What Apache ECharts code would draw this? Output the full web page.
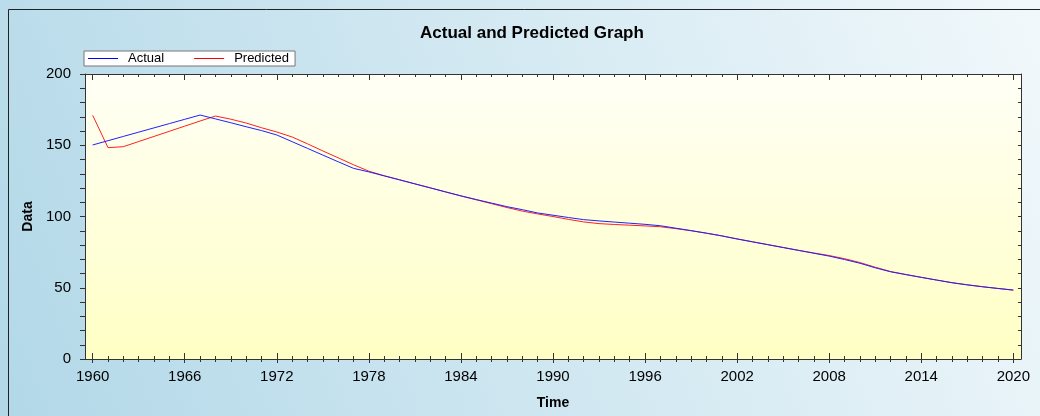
<!DOCTYPE html>
<html>
<head>
<meta charset="utf-8">
<script src="https://cdn.jsdelivr.net/npm/echarts@6/dist/echarts.min.js"></script>
<style>html,body{margin:0;padding:0;}#c{width:1040px;height:416px;}</style>
</head>
<body>
<div id="c"></div>
<script>
const years = [];
for (let y = 1960; y <= 2020; y++) years.push(String(y));

const actual = [
  150.2, 153.2, 156.2, 159.2, 162.2, 165.2, 168.2, 171.2, 168.5, 165.8,
  163.0, 160.3, 157.2, 152.5, 147.8, 143.1, 138.4, 133.8, 131.3, 128.5,
  125.7, 122.9, 120.1, 117.3, 114.5, 111.9, 109.4, 106.9, 104.8, 102.5,
  100.9, 99.3, 97.8, 96.9, 96.1, 95.3, 94.5, 93.5, 91.8, 90.1,
  88.3, 86.4, 84.2, 82.2, 80.2, 78.2, 76.2, 74.2, 72.2, 69.8,
  67.2, 64.0, 61.2, 59.2, 57.3, 55.4, 53.5, 52.0, 50.7, 49.5,
  48.4
];
const predicted = [
  171.0, 148.3, 149.0, 152.6, 156.2, 159.8, 163.4, 167.0, 170.5, 168.3,
  165.6, 162.3, 159.3, 155.8, 151.0, 146.0, 141.2, 136.3, 131.8, 128.6,
  125.8, 122.9, 120.1, 117.2, 114.4, 111.7, 109.0, 106.3, 103.8, 101.8,
  100.0, 98.0, 96.2, 95.0, 94.4, 93.9, 93.4, 92.8, 91.5, 90.0,
  88.3, 86.4, 84.3, 82.3, 80.3, 78.3, 76.3, 74.4, 72.6, 70.4,
  67.7, 64.4, 61.4, 59.3, 57.3, 55.4, 53.6, 52.1, 50.7, 49.5,
  48.3
];
const yTicks = { min: 0, max: 200, interval: 50 };

const chart = echarts.init(document.getElementById('c'));
const font = 'Liberation Sans, Arial, sans-serif';
const tickColor = '#333';

function xAx(extra) {
  return Object.assign({
    type: 'category', data: years, boundaryGap: true, gridIndex: 0,
    axisLine: { show: false }, axisLabel: { show: false },
    splitLine: { show: false }
  }, extra);
}

chart.setOption({
  animation: false,
  graphic: [
    { type: 'rect', z: -10, shape: { x: 0, y: 0, width: 1040, height: 416 },
      style: { fill: new echarts.graphic.LinearGradient(0, 1, 1, 0, [
        { offset: 0, color: '#b2d8e8' }, { offset: 1, color: '#f1f8fb' }]) } },
    { type: 'rect', z: 100, shape: { x: 8.5, y: 9.5, width: 2000, height: 800 },
      style: { fill: 'none', stroke: '#222', lineWidth: 1 } }
  ],
  title: {
    text: 'Actual and Predicted Graph', left: 415, top: 20,
    textStyle: { fontFamily: font, fontSize: 17, fontWeight: 'bold', color: '#000' }
  },
  legend: {
    left: 84, top: 51, orient: 'horizontal',
    backgroundColor: '#fff', borderColor: '#777', borderWidth: 1, borderRadius: 0,
    padding: [1, 6, 1, 4], itemGap: 30, itemWidth: 30, itemHeight: 1, icon: 'rect',
    textStyle: { fontFamily: font, fontSize: 13, color: '#000', padding: [0, 0, 0, 5] },
    data: ['Actual', 'Predicted']
  },
  grid: {
    left: 85, right: 19, top: 74, bottom: 57, show: true,
    borderWidth: 0,
    backgroundColor: new echarts.graphic.LinearGradient(0, 0, 0, 1, [
      { offset: 0, color: '#fffff6' }, { offset: 1, color: '#ffffc4' }])
  },
  xAxis: [
    xAx({
      position: 'bottom', name: 'Time', nameLocation: 'middle', nameGap: 37,
      nameTextStyle: { fontFamily: font, fontSize: 14, fontWeight: 'bold', color: '#000' },
      axisLine: { show: true, onZero: false, lineStyle: { color: tickColor, width: 1 } },
      axisTick: { show: true, interval: 0, alignWithLabel: true, inside: false, length: 3, lineStyle: { color: tickColor } },
      axisLabel: { show: true, interval: 5, margin: 10, fontFamily: font, fontSize: 15, color: '#000' }
    }),
    xAx({ position: 'bottom', axisTick: { show: true, interval: 0, alignWithLabel: true, inside: true, length: 3, lineStyle: { color: tickColor } } }),
    xAx({ position: 'bottom', axisTick: { show: true, interval: 5, alignWithLabel: true, inside: true, length: 6, lineStyle: { color: tickColor } } }),
    xAx({ position: 'bottom', axisTick: { show: true, interval: 5, alignWithLabel: true, inside: false, length: 4, lineStyle: { color: tickColor } } }),
    xAx({ position: 'top',
      axisLine: { show: true, onZero: false, lineStyle: { color: tickColor, width: 1 } },
      axisTick: { show: true, interval: 0, alignWithLabel: true, inside: true, length: 3, lineStyle: { color: tickColor } } }),
    xAx({ position: 'top', axisTick: { show: true, interval: 5, alignWithLabel: true, inside: true, length: 6, lineStyle: { color: tickColor } } })
  ],
  yAxis: [
    {
      type: 'value', position: 'left', min: yTicks.min, max: yTicks.max, interval: yTicks.interval,
      name: 'Data', nameLocation: 'middle', nameGap: 50, nameRotate: 90,
      nameTextStyle: { fontFamily: font, fontSize: 14, fontWeight: 'bold', color: '#000' },
      axisLine: { show: true, onZero: false, lineStyle: { color: tickColor } },
      axisTick: { show: true, inside: false, length: 5, lineStyle: { color: tickColor } },
      minorTick: { show: true, splitNumber: 5, length: 5, lineStyle: { color: tickColor } },
      axisLabel: { margin: 14, fontFamily: font, fontSize: 15, color: '#000' },
      splitLine: { show: false }
    },
    {
      type: 'value', position: 'right', min: yTicks.min, max: yTicks.max, interval: yTicks.interval,
      axisLine: { show: true, onZero: false, lineStyle: { color: tickColor } },
      axisTick: { show: true, inside: true, length: 3, lineStyle: { color: tickColor } },
      minorTick: { show: true, splitNumber: 5, length: 3, lineStyle: { color: tickColor } },
      axisLabel: { show: false },
      splitLine: { show: false }
    }
  ],
  series: [
    { name: 'Predicted', type: 'line', data: predicted, xAxisIndex: 0, yAxisIndex: 0,
      showSymbol: false, symbol: 'none', color: '#ff0000', lineStyle: { width: 1, color: '#ff2020' } },
    { name: 'Actual', type: 'line', data: actual, xAxisIndex: 0, yAxisIndex: 0,
      showSymbol: false, symbol: 'none', color: '#0000ff', lineStyle: { width: 1, color: '#2020ff' } }
  ]
});
</script>
</body>
</html>
